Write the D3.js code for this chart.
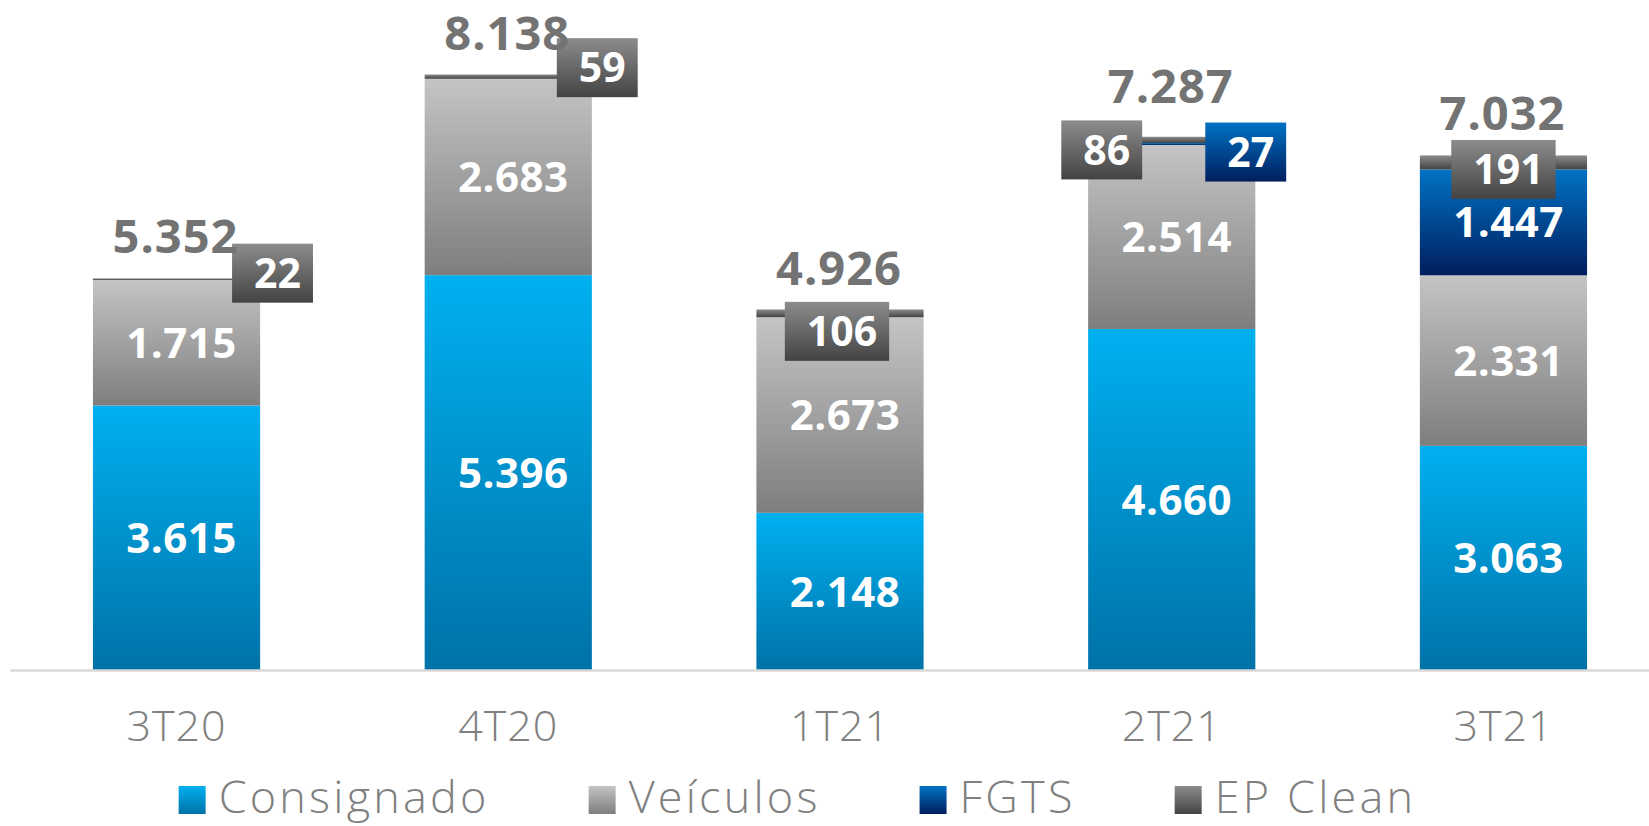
<!DOCTYPE html>
<html><head><meta charset="utf-8">
<script src="https://cdn.jsdelivr.net/npm/d3@7"></script>
<style>body{margin:0;background:#fff} svg{display:block}</style>
</head><body><svg id="c" width="1649" height="826"></svg>
<script>
const categories = ["3T20", "4T20", "1T21", "2T21", "3T21"];
const seriesNames = ["Consignado", "Veículos", "FGTS", "EP Clean"];
const consignado = [3615, 5396, 2148, 4660, 3063];
const veiculos = [1715, 2683, 2673, 2514, 2331];
const fgts = [0, 0, 0, 27, 1447];
const epClean = [22, 59, 106, 86, 191];
const totals = [5352, 8138, 4926, 7287, 7032];

const seriesValues = [consignado, veiculos, fgts, epClean];
const rows = categories.map((c, i) => {
  const r = {cat: c};
  seriesNames.forEach((s, j) => r[s] = seriesValues[j][i]);
  return r;
});

const gradStops = {
  "Consignado": ["#00B0F0", "#0072A8"],
  "Veículos": ["#C4C4C4", "#7E7E7E"],
  "FGTS": ["#0072C4", "#001E5E"],
  "EP Clean": ["#8C8C8C", "#434343"]
};
const gradId = {"Consignado": "gC", "Veículos": "gV", "FGTS": "gF", "EP Clean": "gE"};

const fmt = d3.formatLocale({decimal: ",", thousands: ".", grouping: [3], currency: ["R$", ""]}).format(",d");

const svg = d3.select("#c");
const defs = svg.append("defs");
seriesNames.forEach(s => {
  const g = defs.append("linearGradient").attr("id", gradId[s])
    .attr("x1", 0).attr("y1", 0).attr("x2", 0).attr("y2", 1);
  g.append("stop").attr("offset", "0%").attr("stop-color", gradStops[s][0]);
  g.append("stop").attr("offset", "100%").attr("stop-color", gradStops[s][1]);
});

const baseY = 670;
const x = d3.scaleBand().domain(categories).range([10, 1670]).paddingInner(0.496).paddingOuter(0.25);
const y = d3.scaleLinear().domain([0, d3.max(totals)]).range([baseY, 74.5]);

const stack = d3.stack().keys(seriesNames);
const stacked = stack(rows);

// bars
const layers = svg.append("g").selectAll("g").data(stacked).join("g")
  .attr("fill", d => `url(#${gradId[d.key]})`);
layers.selectAll("rect").data(d => d.map(p => ({p, key: d.key})))
  .join("rect")
  .attr("x", d => x(d.p.data.cat))
  .attr("width", x.bandwidth())
  .attr("y", d => y(d.p[1]))
  .attr("height", d => Math.max(0, y(d.p[0]) - y(d.p[1])));

// axis
const axis = svg.append("g").attr("transform", `translate(0,${baseY})`)
  .call(d3.axisBottom(x).tickSize(0).tickPadding(40));
axis.select(".domain").attr("stroke", "#d9d9d9").attr("stroke-width", 2.5);
axis.selectAll("text").attr("font-family", "Open Sans").attr("font-weight", 300)
  .attr("font-size", 43).attr("fill", "#808080").attr("letter-spacing", 1);

// inner labels
const labelsG = svg.append("g");
stacked.forEach(layer => {
  layer.forEach((p, i) => {
    const h = y(p[0]) - y(p[1]);
    const v = p[1] - p[0];
    if (v <= 0) return;
    const cx = x(p.data.cat) + x.bandwidth() / 2;
    const cy = (y(p[0]) + y(p[1])) / 2;
    if (h > 50) {
      labelsG.append("text").attr("x", cx + 5).attr("y", cy)
        .attr("dy", "0.36em").attr("text-anchor", "middle")
        .attr("font-family", "Open Sans").attr("font-weight", 700)
        .attr("font-size", 42).attr("fill", "#fff").attr("letter-spacing", 0.5)
        .text(fmt(v));
    }
  });
});

// boxed labels for small segments
const boxOffset = {
  "3T20|EP Clean": [96, -6],
  "4T20|EP Clean": [89, -9],
  "1T21|EP Clean": [-3, 18],
  "2T21|EP Clean": [-70, 10],
  "2T21|FGTS": [74, 8],
  "3T21|EP Clean": [0, 7]
};
const boxFill = {"EP Clean": "url(#gE)", "FGTS": "url(#gF)"};
stacked.forEach(layer => {
  layer.forEach(p => {
    const v = p[1] - p[0];
    const key = p.data.cat + "|" + layer.key;
    if (v <= 0 || !boxOffset[key]) return;
    const [dx, dy] = boxOffset[key];
    const cx = x(p.data.cat) + x.bandwidth() / 2 + dx;
    const cy = (y(p[0]) + y(p[1])) / 2 + dy;
    const g = labelsG.append("g");
    const r = g.append("rect").attr("fill", boxFill[layer.key]);
    const t = g.append("text").attr("x", cx + 5).attr("y", cy).attr("dy", "0.36em")
      .attr("text-anchor", "middle").attr("font-family", "Open Sans").attr("font-weight", 700)
      .attr("font-size", 41).attr("fill", "#fff").text(fmt(v));
    const w = t.node().getComputedTextLength() + 34;
    const hh = 59;
    r.attr("x", cx - w / 2).attr("y", cy - hh / 2).attr("width", w).attr("height", hh);
  });
});

// totals
const totalLift = {"2T21": 34};
svg.append("g").selectAll("text").data(categories).join("text")
  .attr("x", d => x(d) + x.bandwidth() / 2 - 1)
  .attr("y", (d, i) => y(totals[i]) - (totalLift[d] || 25))
  .attr("text-anchor", "middle").attr("font-family", "Open Sans").attr("font-weight", 700)
  .attr("font-size", 47).attr("fill", "#737373").attr("letter-spacing", 1)
  .text((d, i) => fmt(totals[i]));

// legend
const lg = svg.append("g");
let lx = 0;
seriesNames.forEach(s => {
  const g = lg.append("g").attr("transform", `translate(${lx},0)`);
  g.append("rect").attr("x", 0).attr("y", 786).attr("width", 27).attr("height", 28)
    .attr("fill", `url(#${gradId[s]})`);
  const t = g.append("text").attr("x", 40).attr("y", 813)
    .attr("font-family", "Open Sans").attr("font-weight", 300).attr("font-size", 45)
    .attr("fill", "#808080").attr("letter-spacing", 3.2).text(s);
  const w = 40 + t.node().getComputedTextLength();
  lx += w + 99;
});
const totalW = lx - 99;
lg.attr("transform", `translate(${797.5 - totalW / 2},0)`);
</script>
</body></html>
